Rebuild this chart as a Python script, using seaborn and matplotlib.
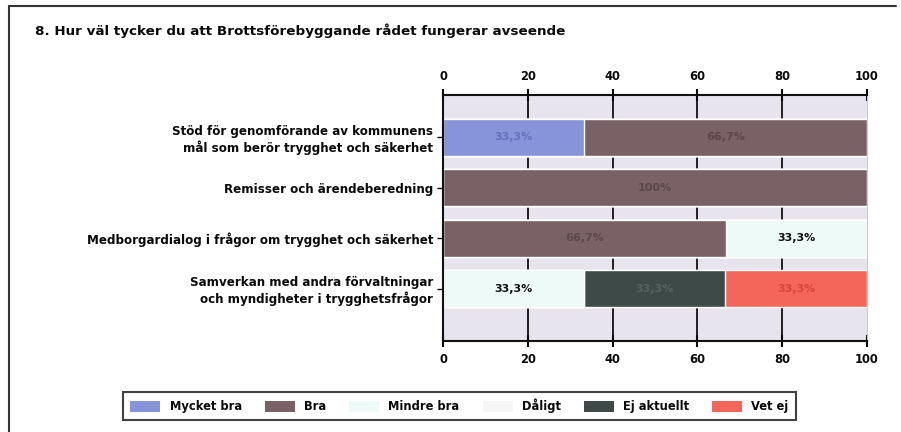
import numpy as np
import pandas as pd
import matplotlib
matplotlib.use("Agg")
import matplotlib.pyplot as plt
import matplotlib.patches as mpatches
import seaborn as sns

# Data
questions = [
    "Stöd för genomförande av kommunens\nmål som berör trygghet och säkerhet",
    "Remisser och ärendeberedning",
    "Medborgardialog i frågor om trygghet och säkerhet",
    "Samverkan med andra förvaltningar\noch myndigheter i trygghetsfrågor",
]
series_names = ["Mycket bra", "Bra", "Mindre bra", "Dåligt", "Ej aktuellt", "Vet ej"]
mycket_bra = [33.3, 0, 0, 0]
bra = [66.7, 100, 66.7, 0]
mindre_bra = [0, 0, 33.3, 33.3]
daligt = [0, 0, 0, 0]
ej_aktuellt = [0, 0, 0, 33.3]
vet_ej = [0, 0, 0, 33.3]
x_ticks = [0, 20, 40, 60, 80, 100]

colors = ["#8794d9", "#7a6165", "#eefaf8", "#f6f6f6", "#3e4a48", "#f4655a"]
label_colors = ["#6473bd", "#5e474b", "#111111", "#111111", "#556260", "#d9463c"]

df = pd.DataFrame({"question": questions})
for name, vals in zip(series_names, [mycket_bra, bra, mindre_bra, daligt, ej_aktuellt, vet_ej]):
    df[name] = vals
cum = df[series_names].cumsum(axis=1)

sns.set_style("white")
plt.rcParams["font.family"] = ["DejaVu Sans"]
plt.rcParams["text.color"] = "#0a0a0a"
plt.rcParams["xtick.color"] = "#0a0a0a"
plt.rcParams["ytick.color"] = "#0a0a0a"

fig = plt.figure(figsize=(9.01, 4.32), dpi=100)
ax = fig.add_axes([0.4917, 0.2106, 0.4706, 0.5694])
ax.set_facecolor("#e7e4ee")

# grid lines behind the bars
for t in x_ticks[1:-1]:
    ax.axvline(t, color="#111111", lw=1.3, zorder=0)

# stacked bars: draw cumulative totals from the last series to the first
for i in range(len(series_names) - 1, -1, -1):
    sns.barplot(x=cum[series_names[i]], y=df["question"], orient="h",
                color=colors[i], width=0.74, saturation=1, ax=ax, zorder=2)

# value labels
for i, name in enumerate(series_names):
    for j, v in enumerate(df[name]):
        if v <= 0:
            continue
        centre = cum[name][j] - v / 2
        txt = "100%" if v >= 100 else f"{v:.1f}".replace(".", ",") + "%"
        ax.text(centre, j, txt, ha="center", va="center", fontsize=8,
                fontweight="bold", color=label_colors[i], zorder=5)

ax.set_xlim(0, 100)
ax.set_ylim(4.04, -0.84)
ax.set_xticks(x_ticks)
ax.set_xlabel("")
ax.set_ylabel("")
ax.tick_params(axis="x", top=True, bottom=True, labeltop=True, labelbottom=True,
               direction="inout", length=9, width=1.5, labelsize=8.3, pad=4)
ax.tick_params(axis="y", left=True, direction="out", length=4, width=1, labelsize=8.6, pad=3)
for lab in ax.get_xticklabels() + ax.get_yticklabels():
    lab.set_fontweight("bold")
for lab in ax.get_yticklabels():
    lab.set_horizontalalignment("right")
    lab.set_multialignment("right")
for s in ["top", "bottom", "left"]:
    ax.spines[s].set_color("#111111")
    ax.spines[s].set_linewidth(1.5)
ax.spines["right"].set_color("#cccccc")

fig.text(0.039, 0.93, "8. Hur väl tycker du att Brottsförebyggande rådet fungerar avseende",
         fontsize=9.7, fontweight="bold", ha="left", va="center")

# outer frame of the scanned page
fig.add_artist(plt.Line2D([0.010, 0.010], [0.0, 0.986], color="#333333", lw=1.5))
fig.add_artist(plt.Line2D([0.010, 0.995], [0.986, 0.986], color="#333333", lw=1.5))

handles = [mpatches.Patch(facecolor=c, edgecolor="none", label=n) for c, n in zip(colors, series_names)]
leg = fig.legend(handles=handles, loc="center", bbox_to_anchor=(0.51, 0.06), ncol=6,
                 frameon=True, fancybox=False, edgecolor="#111111", fontsize=8.3,
                 handlelength=2.6, handleheight=1.1, columnspacing=2.0, borderpad=0.6)
leg.get_frame().set_linewidth(1.5)
for t in leg.get_texts():
    t.set_fontweight("bold")

fig.savefig("out.png", dpi=100)
